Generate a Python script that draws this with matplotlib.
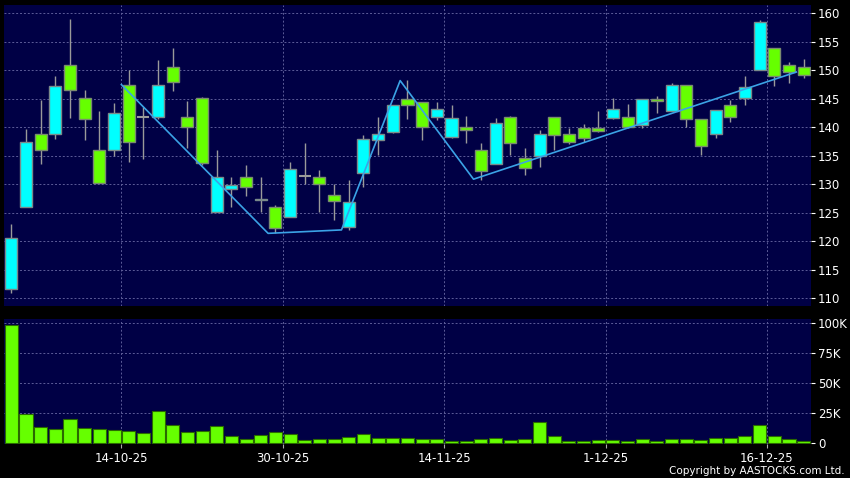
import numpy as np
import matplotlib
matplotlib.use("Agg")
import matplotlib.pyplot as plt

# daily OHLC (HKD), 55 trading days
opens = [111.6, 126.1, 138.9, 138.8, 150.9, 145.1, 136.0, 136.0, 147.5, 141.9,
         141.9, 150.5, 141.9, 145.1, 125.2, 129.1, 131.2, 127.2, 126.1, 124.2,
         131.5, 131.2, 128.1, 122.5, 131.9, 137.7, 139.1, 145.0, 144.4, 141.9,
         138.25, 140.0, 136.1, 133.5, 141.75, 134.7, 135.0, 141.9, 138.9, 139.9,
         139.9, 141.6, 141.9, 140.35, 144.9, 142.8, 147.5, 141.4, 138.9, 143.9,
         145.1, 150.0, 154.0, 151.0, 150.5]
closes = [120.5, 137.5, 136.0, 147.2, 146.5, 141.4, 130.3, 142.5, 137.4, 141.9,
          147.4, 147.9, 140.0, 133.8, 131.2, 129.9, 129.5, 127.5, 122.3, 132.75,
          131.5, 130.05, 127.0, 126.9, 137.9, 138.9, 143.9, 143.9, 140.1, 143.2,
          141.6, 139.5, 132.4, 140.7, 137.2, 132.8, 138.9, 138.6, 137.5, 138.1,
          139.4, 143.3, 140.1, 144.9, 144.6, 147.5, 141.5, 136.8, 143.0, 141.9,
          147.0, 158.4, 148.95, 149.7, 149.1]
highs = [123.0, 139.7, 144.8, 149.0, 159.0, 146.5, 142.9, 144.3, 150.1, 143.6,
         151.8, 153.9, 144.6, 145.4, 136.0, 131.2, 133.4, 131.3, 126.4, 134.0,
         137.2, 132.5, 130.0, 130.8, 138.65, 141.9, 144.0, 148.3, 144.4, 144.4,
         143.9, 142.0, 137.2, 141.6, 142.0, 136.4, 139.5, 141.9, 139.9, 140.6,
         142.9, 145.1, 144.1, 144.9, 145.5, 147.7, 147.5, 141.4, 143.0, 144.8,
         149.0, 158.8, 154.0, 151.5, 152.0]
lows = [111.0, 126.0, 133.6, 138.0, 141.7, 137.8, 130.2, 134.9, 133.9, 134.5,
        141.4, 146.4, 136.4, 133.4, 125.1, 126.1, 128.0, 125.1, 121.5, 124.2,
        130.1, 125.2, 123.7, 121.9, 129.6, 135.1, 139.0, 141.5, 137.7, 141.2,
        138.2, 137.3, 130.8, 133.5, 135.1, 131.7, 133.1, 136.1, 137.0, 137.4,
        139.1, 141.4, 139.8, 139.8, 142.5, 142.8, 140.0, 135.2, 138.2, 141.0,
        144.0, 150.0, 147.3, 147.8, 148.7]
volumes_k = [98.6, 24.7, 13.6, 11.9, 20.3, 12.8, 11.9, 11.1, 10.0, 8.9,
             27.2, 15.0, 9.7, 10.3, 14.4, 6.1, 3.9, 6.7, 9.7, 8.1,
             3.1, 3.6, 3.3, 5.3, 7.5, 4.4, 4.4, 4.2, 3.6, 3.6,
             1.9, 1.9, 3.6, 4.4, 2.8, 3.9, 17.8, 5.8, 1.9, 1.9,
             3.1, 3.1, 2.2, 3.6, 2.2, 3.6, 3.6, 2.8, 4.4, 4.4,
             6.1, 15.6, 6.4, 3.3, 1.9]

# zigzag turning points (candle index, price)
zz_idx = [8, 18, 23, 27, 32, 54]
zz_price = [147.5, 121.4, 122.0, 148.2, 130.9, 149.7]

# date ticks (candle index of the labelled day)
tick_idx = [8, 19, 30, 41, 52]
tick_labels = ["14-10-25", "30-10-25", "14-11-25", "1-12-25", "16-12-25"]

UP = "#00ffff"
DOWN = "#66ff00"
BG = "#000045"
GRID = "#5c5c98"

x = np.arange(len(opens))
o = np.array(opens)
c = np.array(closes)

fig = plt.figure(figsize=(8.5, 4.78), dpi=100, facecolor="black")
ax = fig.add_axes([0.0047, 0.3598, 0.9494, 0.6297])
axv = fig.add_axes([0.0047, 0.0711, 0.9494, 0.2615])

for a in (ax, axv):
    a.set_facecolor(BG)
    a.set_xlim(-0.5, 54.5)
    a.set_xticks([t - 0.5 for t in tick_idx])
    a.grid(True, color=GRID, linestyle=(0, (2, 2)), linewidth=0.7)
    a.set_axisbelow(True)
    a.yaxis.tick_right()
    a.tick_params(axis="y", colors="white", labelsize=8.5, length=3, width=0.8,
                  pad=2)
    a.tick_params(axis="x", colors="#aaaaaa", length=3, width=0.8)
    for s in a.spines.values():
        s.set_visible(False)

# candles
ax.vlines(x, lows, highs, color="#9a9a9a", linewidth=1, zorder=2)
up = c > o
down = c < o
flat = c == o
ax.bar(x[up], (c - o)[up], bottom=o[up], width=0.82, color=UP,
       edgecolor="#7a8a8a", linewidth=1, zorder=3)
ax.bar(x[down], (o - c)[down], bottom=c[down], width=0.82, color=DOWN,
       edgecolor="#7a8a70", linewidth=1, zorder=3)
ax.hlines(c[flat], x[flat] - 0.41, x[flat] + 0.41, color="#9a9a9a",
          linewidth=1.5, zorder=3)

ax.plot([i - 0.5 for i in zz_idx], zz_price, color="#3ba3e6", linewidth=1.2,
        zorder=4)

ax.set_ylim(108.65, 161.46)
ax.set_yticks(np.arange(110, 161, 5))
ax.tick_params(axis="x", labelbottom=False, length=0)

# volume
axv.bar(x, np.array(volumes_k) * 1000, width=0.89, color=DOWN,
        edgecolor="#2a6a00", linewidth=0.8, zorder=3)
axv.set_ylim(-600, 103600)
axv.set_yticks([0, 25000, 50000, 75000, 100000])
axv.set_yticklabels(["0", "25K", "50K", "75K", "100K"])
axv.set_xticklabels(tick_labels, color="white", fontsize=8.5)
axv.tick_params(axis="x", labelcolor="white", pad=3)
axv.yaxis.grid(True, color=GRID, linestyle=(0, (2, 2)), linewidth=0.7)
ygl = axv.get_ygridlines()
ygl[0].set_visible(False)

fig.text(0.994, 0.005, "Copyright by AASTOCKS.com Ltd.", color="white",
         fontsize=7.5, ha="right", va="bottom")

fig.savefig("out.png", dpi=100, facecolor="black")
